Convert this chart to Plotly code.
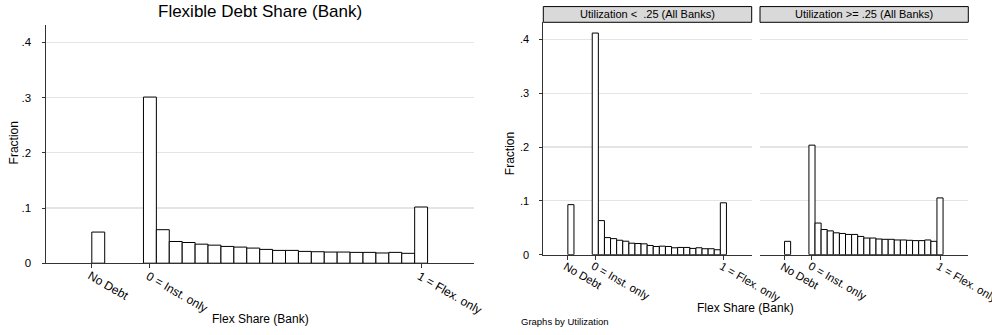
import math
import plotly.graph_objects as go

# ---------------- data ----------------
BIN_WIDTH = 1 / 21
NO_DEBT_CODE = -4.5 / 21          # value used to code "No Debt"
x_tick_labels = ["No Debt", "0 = Inst. only", "1 = Flex. only"]
y_tick_vals = [0, 0.1, 0.2, 0.3, 0.4]
y_tick_text = ["0", ".1", ".2", ".3", ".4"]

# Fraction of banks, all banks
all_no_debt = 0.0564
all_shares = [0.301, 0.0607, 0.0393, 0.0375, 0.0345, 0.0327, 0.0304, 0.0292, 0.0274,
              0.0250, 0.0232, 0.0232, 0.0214, 0.0208, 0.0202, 0.0202, 0.0196, 0.0196,
              0.0185, 0.0196, 0.0179, 0.1018]

# Utilization < .25
low_no_debt = 0.093
low_shares = [0.412, 0.0633, 0.0317, 0.0298, 0.0268, 0.0250, 0.0213, 0.0207, 0.0201,
              0.0171, 0.0152, 0.0158, 0.0152, 0.0128, 0.0134, 0.0134, 0.0116, 0.0128,
              0.0110, 0.0110, 0.0091, 0.0964]

# Utilization >= .25
high_no_debt = 0.0248
high_shares = [0.2036, 0.0588, 0.0467, 0.0442, 0.0406, 0.0394, 0.0376, 0.0376, 0.0339,
               0.0309, 0.0309, 0.0291, 0.0285, 0.0285, 0.0273, 0.0273, 0.0267, 0.0261,
               0.0261, 0.0273, 0.0248, 0.1055]

panel_titles = ["Utilization <  .25 (All Banks)", "Utilization >= .25 (All Banks)"]

# ---------------- layout helpers ----------------
W, H = 992, 335
FONT = "Liberation Sans, Arial, Helvetica, sans-serif"
AX = "#333333"
GRID = "#e4e4e4"
ANGLE = 30


def px_x(p):
    return p / W


def px_y(p):
    return 1 - p / H


tick_vals_x = [NO_DEBT_CODE, 0, 1]
share_centers = [k * BIN_WIDTH for k in range(len(all_shares))]
no_debt_center = NO_DEBT_CODE + BIN_WIDTH / 2


def bars(no_debt, shares, xa, ya):
    return go.Bar(
        x=[no_debt_center] + share_centers,
        y=[no_debt] + shares,
        width=BIN_WIDTH,
        marker=dict(color="white", line=dict(color="black", width=1)),
        xaxis=xa, yaxis=ya, showlegend=False, hoverinfo="x+y",
    )


fig = go.Figure()
fig.add_trace(bars(all_no_debt, all_shares, "x", "y"))
fig.add_trace(bars(low_no_debt, low_shares, "x2", "y2"))
fig.add_trace(bars(high_no_debt, high_shares, "x3", "y3"))

# panels: (x pixel left, x pixel right, x range, y pixel bottom, y pixel top, y range, label font)
panels = [
    (45.5, 474.0, [-0.385, 1.195], 268.0, 25.0, [0, 0.4324], 12),
    (543.3, 751.7, [-0.406, 1.221], 259.3, 22.7, [0, 0.432], 11.3),
    (760.0, 968.3, [-0.406, 1.221], 259.3, 22.7, [0, 0.432], 11.3),
]


def xaxis(p, anchor):
    x0, x1, rng = p[0], p[1], p[2]
    return dict(
        domain=[px_x(x0), px_x(x1)], range=rng, anchor=anchor,
        tickvals=tick_vals_x, showticklabels=False,
        ticks="outside", ticklen=4, tickcolor=AX, tickwidth=1,
        showline=True, linecolor=AX, linewidth=1,
        showgrid=False, zeroline=False,
    )


def yaxis(p, anchor, show, fsize):
    return dict(
        domain=[px_y(p[3]), px_y(p[4])], range=p[5], anchor=anchor,
        tickvals=y_tick_vals, ticktext=y_tick_text,
        ticks="outside" if show else "", ticklen=3, tickcolor=AX,
        ticklabelstandoff=8,
        showticklabels=show, showline=show, linecolor=AX, linewidth=1,
        showgrid=True, gridcolor=GRID, gridwidth=1.2, zeroline=False,
        tickfont=dict(family=FONT, size=fsize, color="black"),
    )


fig.update_layout(
    width=W, height=H,
    margin=dict(l=0, r=0, t=0, b=0),
    paper_bgcolor="white", plot_bgcolor="white",
    bargap=0,
    xaxis=xaxis(panels[0], "y"),
    yaxis=yaxis(panels[0], "x", True, 11.5),
    xaxis2=xaxis(panels[1], "y2"),
    yaxis2=yaxis(panels[1], "x2", True, 11),
    xaxis3=xaxis(panels[2], "y3"),
    yaxis3=yaxis(panels[2], "x3", False, 11),
)

ann = []


def text(s, x, y, size, angle=0, xanchor="center", yanchor="middle"):
    ann.append(dict(text=s, x=px_x(x), y=px_y(y), xref="paper", yref="paper",
                    showarrow=False, textangle=angle, xanchor=xanchor, yanchor=yanchor,
                    borderpad=0, font=dict(family=FONT, size=size, color="black")))


# rotated x tick labels, starting at each tick
for p in panels:
    x0, x1, rng, yb, fs = p[0], p[1], p[2], p[3], p[6]
    h = fs * 1.25
    for v, lab in zip(tick_vals_x, x_tick_labels):
        tx = x0 + (v - rng[0]) / (rng[1] - rng[0]) * (x1 - x0)
        text(lab, tx - h * math.sin(math.radians(ANGLE)), yb + 4, fs,
             angle=ANGLE, xanchor="left", yanchor="top")

text("Flexible Debt Share (Bank)", 260, 12, 17)
text("Fraction", 14, 146, 12, angle=-90)
text("Flex Share (Bank)", 260, 325, 12)
text("Fraction", 510, 157, 12, angle=-90)
text("Flex Share (Bank)", 745, 314, 12)
text("Graphs by Utilization", 520, 327, 9.5, xanchor="left")

shapes = []
strips = [(panels[1][0], panels[1][1]), (panels[2][0], panels[2][1])]
for (x0, x1), title in zip(strips, panel_titles):
    shapes.append(dict(type="rect", xref="paper", yref="paper",
                       x0=px_x(x0), x1=px_x(x1), y0=px_y(22.7), y1=px_y(6.7),
                       fillcolor="#d9d9d9", line=dict(color="black", width=1)))
    text(title, (x0 + x1) / 2, 14.5, 11)

fig.update_layout(annotations=ann, shapes=shapes)

fig.write_html(
    "out.html",
    config={"displayModeBar": False, "staticPlot": True},
    post_script=(
        "var s=document.documentElement.style;s.margin='0';s.padding='0';s.overflow='hidden';"
        "var b=document.body.style;b.margin='0';b.padding='0';b.overflow='hidden';"
    ),
)
